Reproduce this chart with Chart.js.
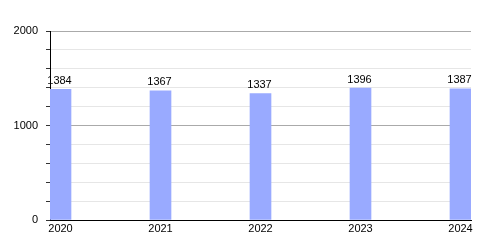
<!DOCTYPE html>
<html>
<head>
<meta charset="utf-8">
<script src="https://cdn.jsdelivr.net/npm/chart.js@4"></script>
<style>
  body { margin: 0; background: #fff; }
</style>
</head>
<body>
<canvas id="chart" width="500" height="250"></canvas>
<script>
// chart data
const years = [2020, 2021, 2022, 2023, 2024];
const counts = [1384, 1367, 1337, 1396, 1387];
const yMajorTicks = [0, 1000, 2000];

const barColor = '#99aaff';
const fontFamily = '"Liberation Sans", Arial, sans-serif';

// draws the value above each bar
const valueLabels = {
    id: 'valueLabels',
    afterDatasetsDraw(chart) {
        const ctx = chart.ctx;
        const meta = chart.getDatasetMeta(0);
        ctx.save();
        ctx.font = '11px ' + fontFamily;
        ctx.fillStyle = '#000';
        ctx.textAlign = 'center';
        ctx.textBaseline = 'bottom';
        meta.data.forEach((bar, i) => {
            ctx.fillText(String(counts[i]), bar.x - 1, bar.y - 3);
        });
        ctx.restore();
    }
};

const ctx = document.getElementById('chart').getContext('2d');
new Chart(ctx, {
    type: 'bar',
    data: {
        datasets: [{
            data: years.map((y, i) => ({ x: y, y: counts[i] })),
            backgroundColor: barColor,
            borderWidth: 0,
            barThickness: 21
        }]
    },
    options: {
        responsive: false,
        animation: false,
        layout: { padding: { top: 31, right: 29, left: 0, bottom: 0 } },
        plugins: {
            legend: { display: false },
            tooltip: { enabled: false }
        },
        scales: {
            x: {
                type: 'linear',
                offset: false,
                min: years[0] - 0.105,
                max: years[years.length - 1] + 0.105,
                afterBuildTicks: s => { s.ticks = years.map(v => ({ value: v })); },
                afterFit: s => { s.height = 30; },
                grid: { display: false, drawTicks: false, offset: false },
                border: { color: '#000', width: 1 },
                ticks: {
                    color: '#000',
                    font: { family: fontFamily, size: 11 },
                    padding: 2,
                    maxRotation: 0,
                    callback: v => String(v)
                }
            },
            y: {
                min: 0,
                max: 2000,
                afterFit: s => { s.width = 50; },
                border: { color: '#000', width: 1 },
                grid: {
                    color: c => yMajorTicks.includes(c.tick.value) ? '#aaaaaa' : '#e6e6e6',
                    tickColor: '#333',
                    tickLength: 4
                },
                ticks: {
                    stepSize: 200,
                    autoSkip: false,
                    color: '#000',
                    padding: 8,
                    font: { family: fontFamily, size: 11 },
                    callback: v => yMajorTicks.includes(v) ? String(v) : ''
                }
            }
        }
    },
    plugins: [valueLabels]
});
</script>
</body>
</html>
